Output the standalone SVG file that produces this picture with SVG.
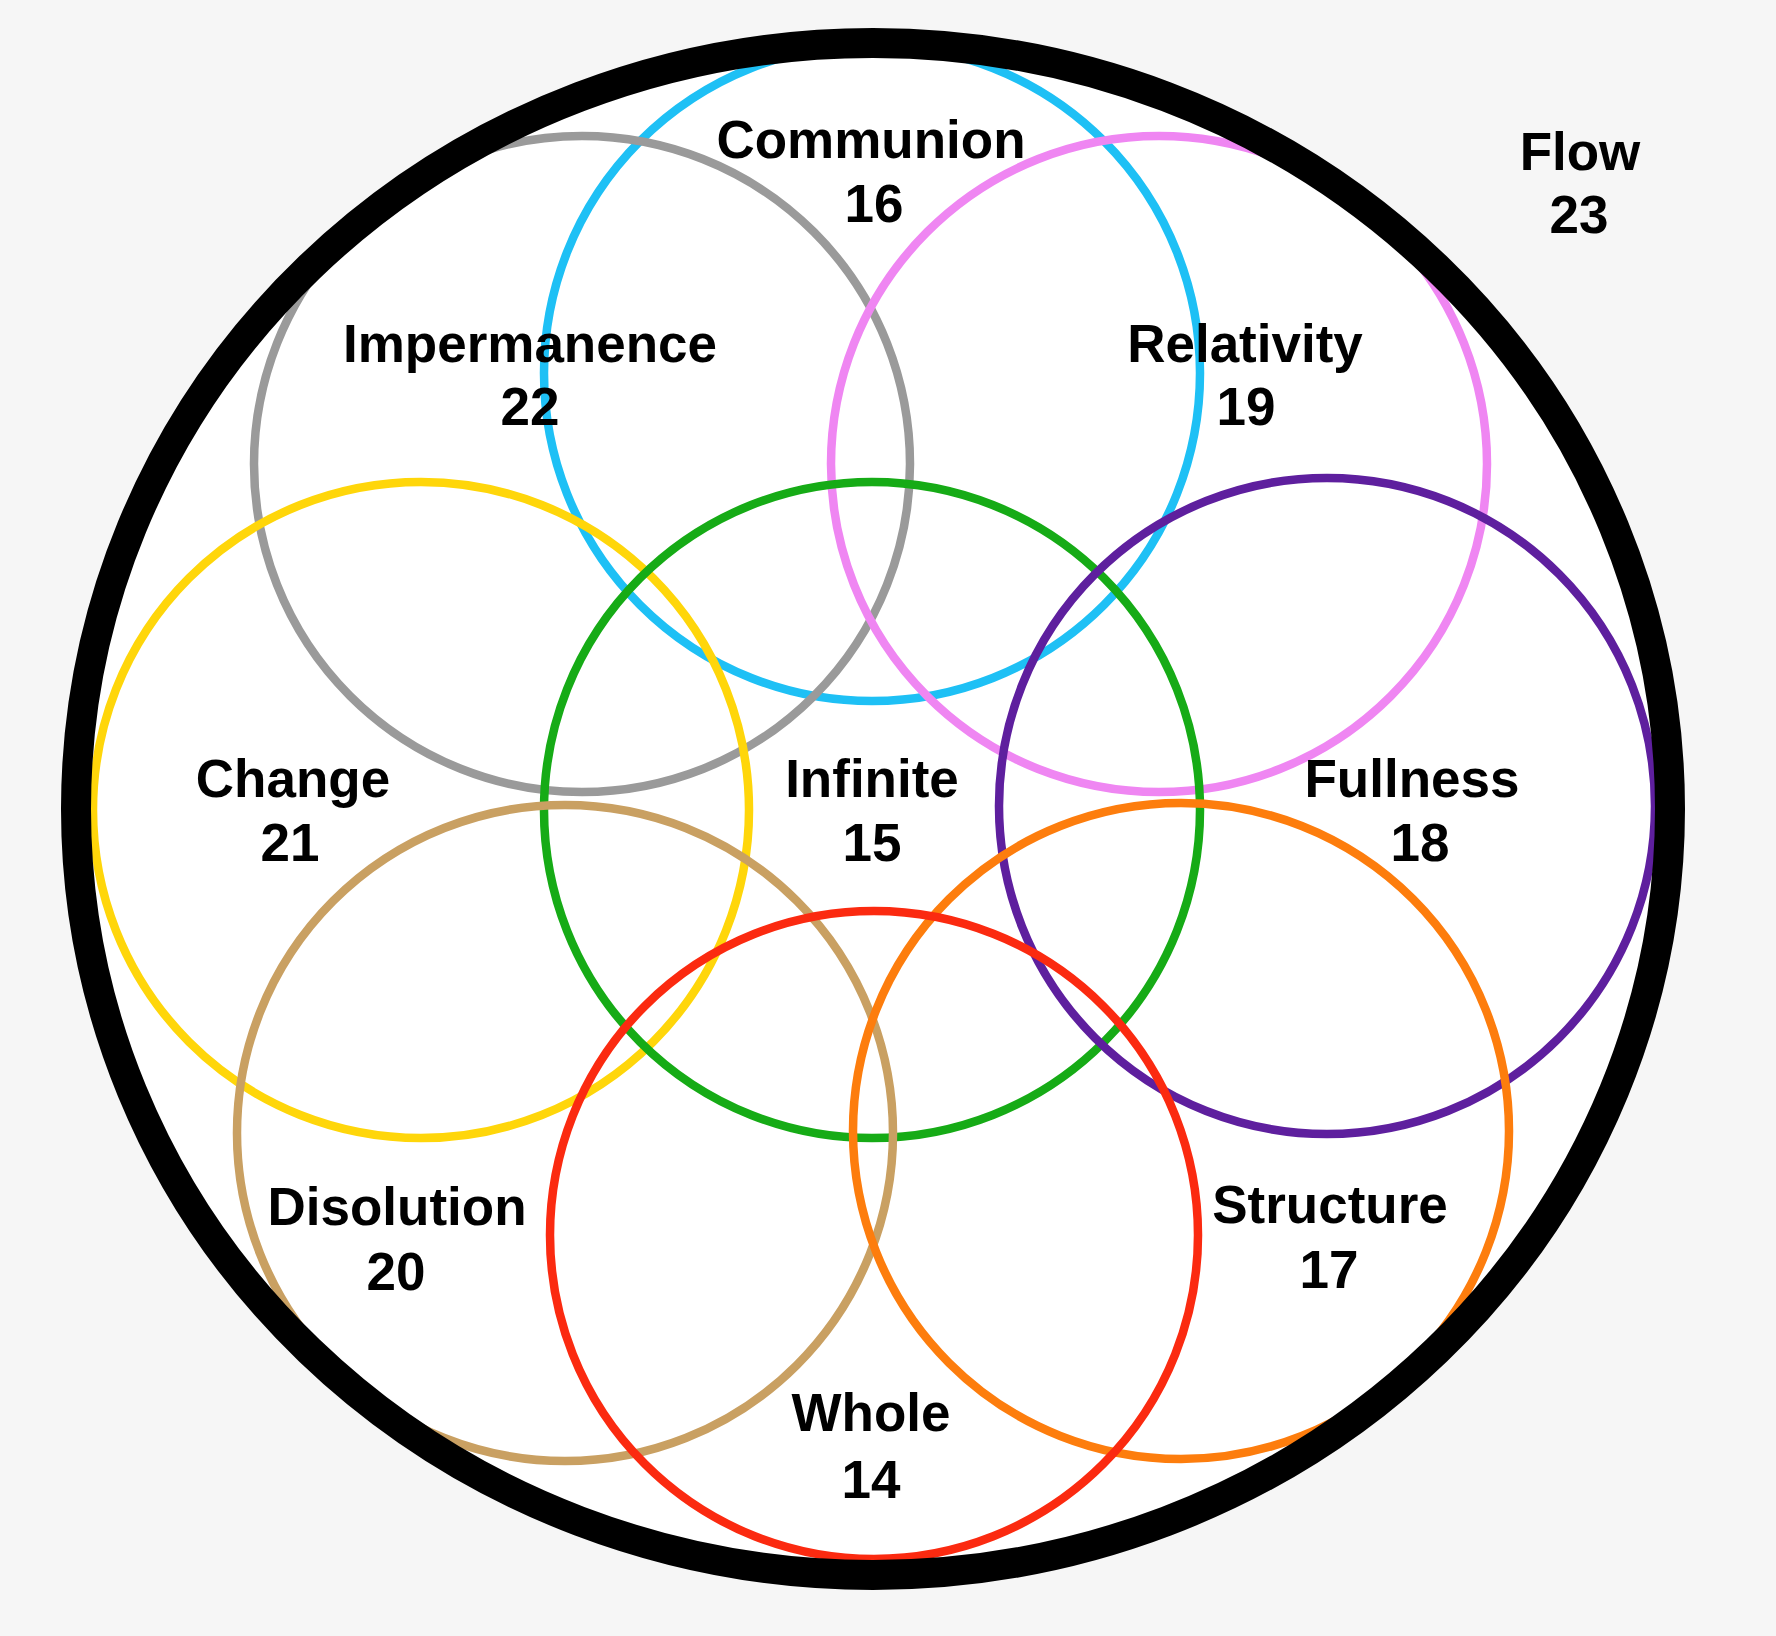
<svg xmlns="http://www.w3.org/2000/svg" width="1776" height="1636" viewBox="0 0 1776 1636">
<style>
.ring{fill:none;stroke-width:8.5}
.lbl{font-family:"Liberation Sans",Arial,sans-serif;font-weight:bold;font-size:53px;fill:#000;text-anchor:middle}
</style>
<rect x="0" y="0" width="1776" height="1636" fill="#f6f6f6"/>
<ellipse cx="873" cy="809" rx="797" ry="766" fill="#ffffff"/>
<g id="circles">
<g id="communion"><circle class="ring" cx="872" cy="373" r="328" stroke="#1ec0f5"/></g>
<g id="impermanence"><circle class="ring" cx="582" cy="464" r="328" stroke="#9a9a9a"/></g>
<g id="relativity"><circle class="ring" cx="1159" cy="464" r="328" stroke="#ef86f2"/></g>
<g id="change"><circle class="ring" cx="421" cy="810" r="328" stroke="#ffd60a"/></g>
<g id="infinite"><circle class="ring" cx="872" cy="810" r="328" stroke="#16ab16"/></g>
<g id="fullness"><circle class="ring" cx="1327" cy="806" r="328" stroke="#5e1f9e"/></g>
<g id="disolution"><circle class="ring" cx="565" cy="1133" r="328" stroke="#c9a062"/></g>
<g id="structure"><circle class="ring" cx="1181" cy="1131" r="328" stroke="#fd7d0d"/></g>
<g id="whole"><circle class="ring" cx="874" cy="1235" r="324" stroke="#fb2a10"/></g>
</g>
<g id="flow"><ellipse cx="873" cy="809" rx="797" ry="766" fill="none" stroke="#000" stroke-width="30"/></g>
<g id="labels">
<text class="lbl" x="871" y="158">Communion</text><text class="lbl" x="874" y="222">16</text>
<text class="lbl" x="530" y="362">Impermanence</text><text class="lbl" x="530" y="425">22</text>
<text class="lbl" x="1245" y="362">Relativity</text><text class="lbl" x="1246" y="425">19</text>
<text class="lbl" x="293" y="797">Change</text><text class="lbl" x="290" y="861">21</text>
<text class="lbl" x="872" y="797">Infinite</text><text class="lbl" x="872" y="861">15</text>
<text class="lbl" x="1412" y="797">Fullness</text><text class="lbl" x="1420" y="861">18</text>
<text class="lbl" x="397" y="1225">Disolution</text><text class="lbl" x="396" y="1290">20</text>
<text class="lbl" x="1330" y="1223">Structure</text><text class="lbl" x="1329" y="1288">17</text>
<text class="lbl" x="871" y="1431">Whole</text><text class="lbl" x="871" y="1498">14</text>
<text class="lbl" x="1580" y="170">Flow</text><text class="lbl" x="1579" y="233">23</text>
</g>
</svg>
